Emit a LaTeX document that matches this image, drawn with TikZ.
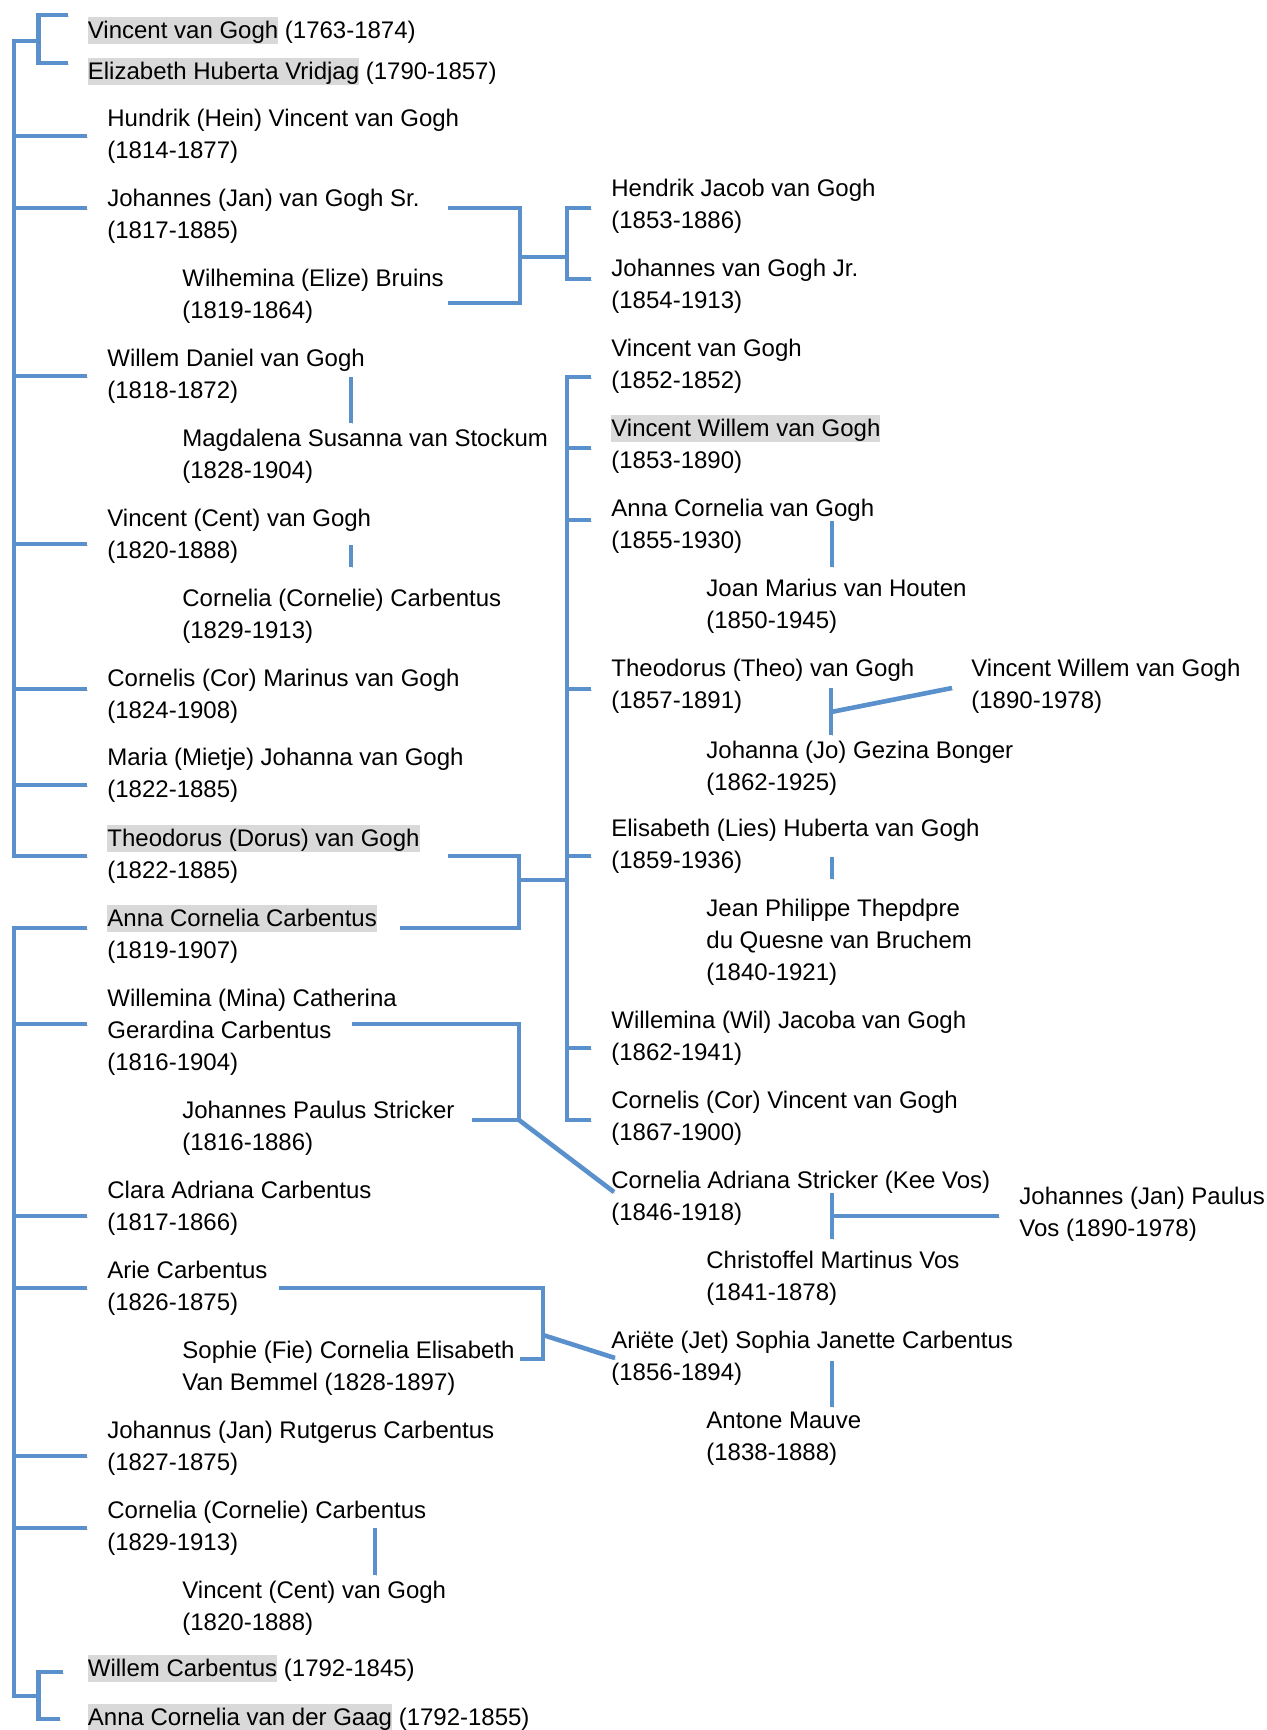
\documentclass[tikz,border=0pt]{standalone}
\usepackage{fontspec}
\setmainfont{Liberation Sans}
\usepackage{tikz}
\usetikzlibrary{positioning,calc}
\definecolor{linkblue}{RGB}{90,145,204}
\definecolor{hlgray}{RGB}{217,217,217}
\tikzset{
  person/.style={anchor=base west,align=left,inner sep=0pt,font=\fontsize{12}{16}\selectfont},
  famline/.style={draw=linkblue,line width=2.3pt,
    preaction={draw=black,opacity=0.18,transform canvas={shift={(0.6pt,-0.7pt)}}}}
}
\newcommand{\hilite}[1]{{\setlength{\fboxsep}{0pt}\colorbox{hlgray}{\rule[-0.212em]{0pt}{1.117em}#1}}}

\begin{document}
\begin{tikzpicture}[x=0.5pt,y=-0.5pt]
  \useasboundingbox (0,0) rectangle (1267,1730);

  % van Gogh side (base = last line)
  \node[person] (vvgA) at (87.5,38.5) {\hilite{Vincent van Gogh} (1763-1874)};
  \node[person] (vridjag) at (87.5,79.5) {\hilite{Elizabeth Huberta Vridjag} (1790-1857)};
  \node[person] (hein) at (107,158.5) {Hundrik (Hein) Vincent van Gogh\\(1814-1877)};
  \node[person] (jansr) at (107,238.5) {Johannes (Jan) van Gogh Sr.\\(1817-1885)};
  \node[person] (elize) at (182,318.5) {Wilhemina (Elize) Bruins\\(1819-1864)};
  \node[person] (willemd) at (107,398.5) {Willem Daniel van Gogh\\(1818-1872)};
  \node[person] (magda) at (182,478.5) {Magdalena Susanna van Stockum\\(1828-1904)};
  \node[person] (cent) at (107,558.5) {Vincent (Cent) van Gogh\\(1820-1888)};
  \node[person] (cornelie) at (182,638.5) {Cornelia (Cornelie) Carbentus\\(1829-1913)};
  \node[person] (cormar) at (107,718.5) {Cornelis (Cor) Marinus van Gogh\\(1824-1908)};
  \node[person] (mietje) at (107,797.5) {Maria (Mietje) Johanna van Gogh\\(1822-1885)};
  \node[person] (dorus) at (107,878.5) {\hilite{Theodorus (Dorus) van Gogh}\\(1822-1885)};
  \node[person] (annacc) at (107,958.5) {\hilite{Anna Cornelia Carbentus}\\(1819-1907)};

  % Carbentus side
  \node[person] (mina) at (107,1070.5) {Willemina (Mina) Catherina\\Gerardina Carbentus\\(1816-1904)};
  \node[person] (stricker) at (182,1150.5) {Johannes Paulus Stricker\\(1816-1886)};
  \node[person] (clara) at (107,1230.5) {Clara Adriana Carbentus\\(1817-1866)};
  \node[person] (arie) at (107,1310.5) {Arie Carbentus\\(1826-1875)};
  \node[person] (sophie) at (182,1390.5) {Sophie (Fie) Cornelia Elisabeth\\Van Bemmel (1828-1897)};
  \node[person] (johannus) at (107,1470.5) {Johannus (Jan) Rutgerus Carbentus\\(1827-1875)};
  \node[person] (cornelieB) at (107,1550.5) {Cornelia (Cornelie) Carbentus\\(1829-1913)};
  \node[person] (centB) at (182,1630.5) {Vincent (Cent) van Gogh\\(1820-1888)};
  \node[person] (willemc) at (87.5,1676.5) {\hilite{Willem Carbentus} (1792-1845)};
  \node[person] (gaag) at (87.5,1725.5) {\hilite{Anna Cornelia van der Gaag} (1792-1855)};

  % next generation
  \node[person] (hendrik) at (611,228.5) {Hendrik Jacob van Gogh\\(1853-1886)};
  \node[person] (janjr) at (611,308.5) {Johannes van Gogh Jr.\\(1854-1913)};
  \node[person] (vvgB) at (611,388.5) {Vincent van Gogh\\(1852-1852)};
  \node[person] (vincentw) at (611,468.5) {\hilite{Vincent Willem van Gogh}\\(1853-1890)};
  \node[person] (annavg) at (611,548.5) {Anna Cornelia van Gogh\\(1855-1930)};
  \node[person] (joan) at (706,628.5) {Joan Marius van Houten\\(1850-1945)};
  \node[person] (theo) at (611,708.5) {Theodorus (Theo) van Gogh\\(1857-1891)};
  \node[person] (vwnephew) at (971,708.5) {Vincent Willem van Gogh\\(1890-1978)};
  \node[person] (jo) at (706,790.5) {Johanna (Jo) Gezina Bonger\\(1862-1925)};
  \node[person] (lies) at (611,868.5) {Elisabeth (Lies) Huberta van Gogh\\(1859-1936)};
  \node[person] (jean) at (706,980.5) {Jean Philippe Thepdpre\\du Quesne van Bruchem\\(1840-1921)};
  \node[person] (wil) at (611,1060.5) {Willemina (Wil) Jacoba van Gogh\\(1862-1941)};
  \node[person] (corvin) at (611,1140.5) {Cornelis (Cor) Vincent van Gogh\\(1867-1900)};
  \node[person] (kee) at (611,1220.5) {Cornelia Adriana Stricker (Kee Vos)\\(1846-1918)};
  \node[person] (janvos) at (1019,1236.5) {Johannes (Jan) Paulus\\Vos (1890-1978)};
  \node[person] (christoffel) at (706,1300.5) {Christoffel Martinus Vos\\(1841-1878)};
  \node[person] (jet) at (611,1380.5) {Ariëte (Jet) Sophia Janette Carbentus\\(1856-1894)};
  \node[person] (mauve) at (706,1460.5) {Antone Mauve\\(1838-1888)};

  % spines
  \coordinate (vgPar) at (38.6,41);
  \coordinate (vgTop) at (14,41);
  \coordinate (cbBot) at (14,1696);
  \coordinate (cbPar) at (38.6,1696);
  \draw[famline] ([xshift=-10pt]vvgA.west |- 0,15) -| (vgPar) |- ([xshift=-10pt]vridjag.west |- 0,63);
  \draw[famline] (vgPar) -- (vgTop) |- ([xshift=-10pt]dorus.west |- 0,856);
  \foreach \who/\yy in {hein/136,jansr/208,willemd/376,cent/544,cormar/689,mietje/785}
    \draw[famline] (vgTop |- 0,\yy) -- ([xshift=-10pt]\who.west |- 0,\yy);
  \draw[famline] ([xshift=-10pt]annacc.west |- 0,928) -| (cbBot) -- (cbPar);
  \draw[famline] ([xshift=-12.5pt]willemc.west |- 0,1672) -| (cbPar) |- ([xshift=-14pt]gaag.west |- 0,1719);
  \foreach \who/\yy in {mina/1024,clara/1216,arie/1288,johannus/1456,cornelieB/1528}
    \draw[famline] (cbBot |- 0,\yy) -- ([xshift=-10pt]\who.west |- 0,\yy);

  % couples and children
  \coordinate (jsM) at (520,257);
  \coordinate (jsKid) at (567,257);
  \draw[famline] (448,208) -| (jsM) |- (448,303);
  \draw[famline] (jsM) -- (jsKid);
  \draw[famline] ([xshift=-10pt]hendrik.west |- 0,208) -| (jsKid) |- ([xshift=-10pt]janjr.west |- 0,279);

  \coordinate (dcM) at (519,880);
  \coordinate (dkTop) at (567,377);
  \coordinate (dkBot) at (567,1120);
  \draw[famline] (448,856) -| (dcM) |- (400,928);
  \draw[famline] (dcM) -- (dcM -| dkTop);
  \draw[famline] ([xshift=-10pt]vvgB.west |- dkTop) -- (dkTop) -- (dkBot) -- ([xshift=-10pt]corvin.west |- dkBot);
  \foreach \who/\yy in {vincentw/448,annavg/520,theo/689,lies/856,wil/1048}
    \draw[famline] (dkTop |- 0,\yy) -- ([xshift=-10pt]\who.west |- 0,\yy);

  \coordinate (msM) at (519,1120);
  \draw[famline] (352,1024) -| (msM) -- (472,1120);
  \draw[famline] (msM) -- ([xshift=1.5pt]kee.west |- 0,1192);

  \coordinate (asM) at (543,1335);
  \draw[famline] (279,1288) -| (543,1359) -- (520,1359);
  \draw[famline] (asM) -- ([xshift=2pt]jet.west |- 0,1358);

  % marriages
  \foreach \xx/\ya/\yb in {351/377/423,351/545/567,832/521/567,831/688/735,832/857/879,832/1193/1239,832/1361/1407,375/1528/1575}
    \draw[famline] (\xx,\ya) -- (\xx,\yb);
  \draw[famline] (831,712) -- ([xshift=-9.5pt]vwnephew.west |- 0,688);
  \draw[famline] (832,1216) -- ([xshift=-10pt]janvos.west |- 0,1216);
\end{tikzpicture}
\end{document}
